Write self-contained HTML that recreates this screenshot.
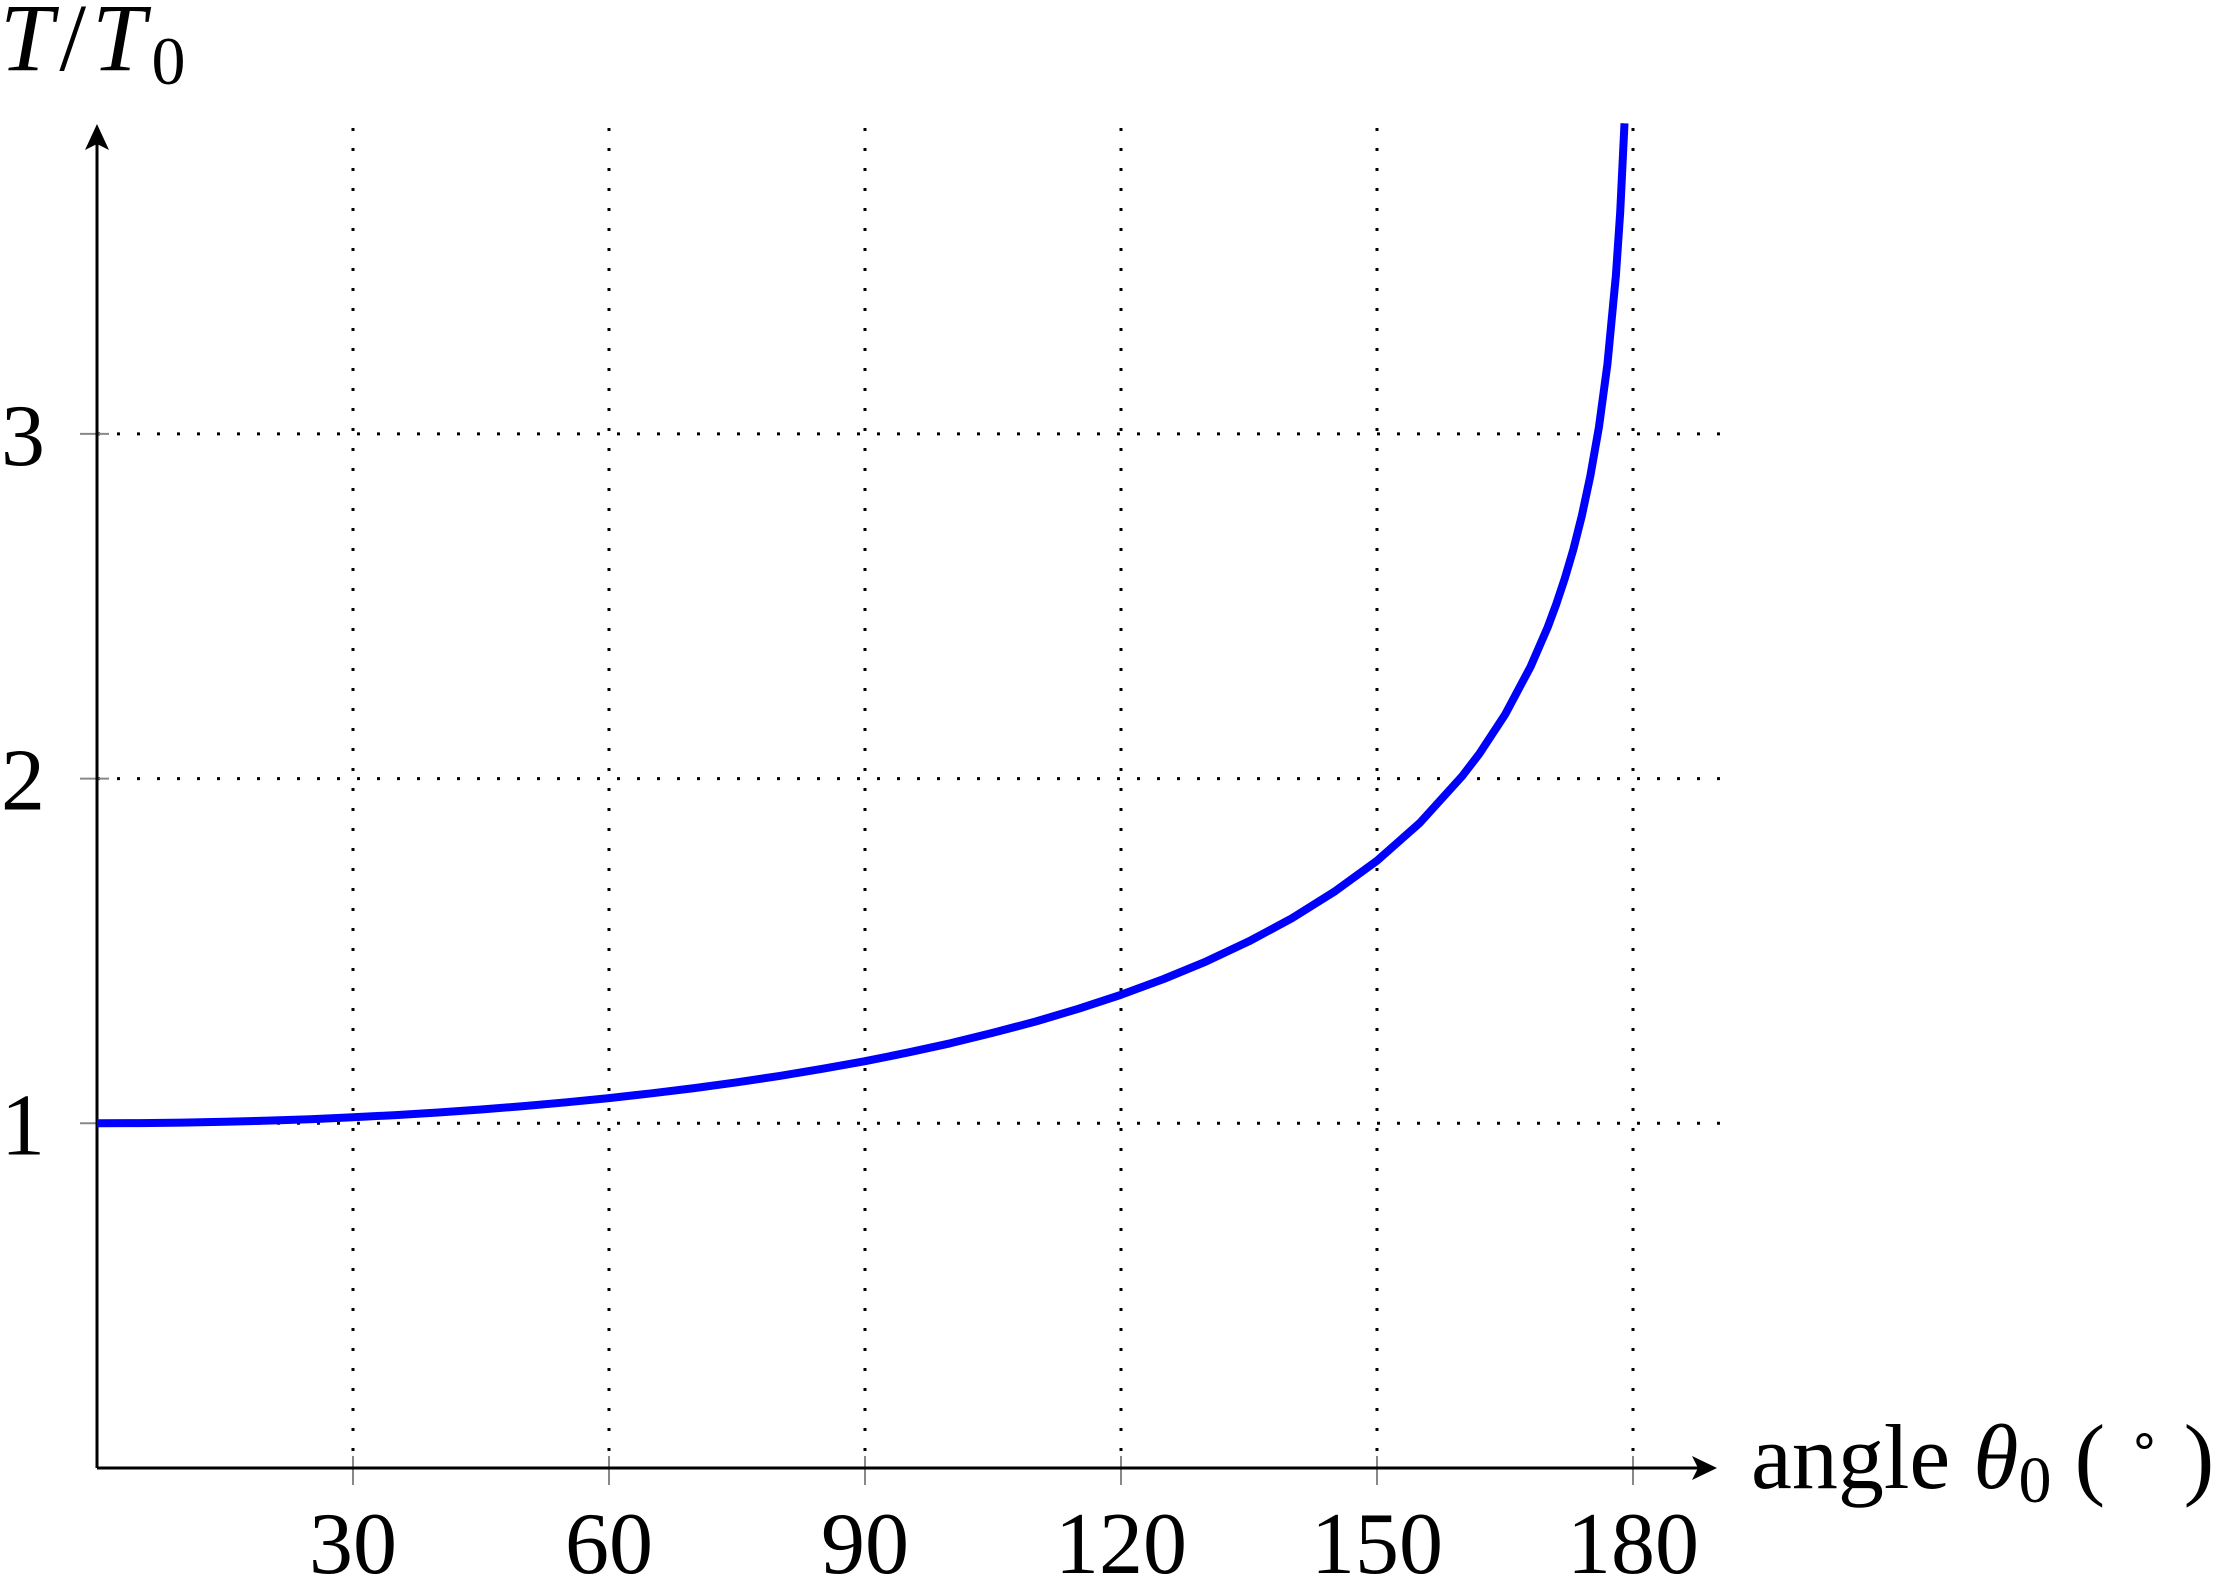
<!DOCTYPE html>
<html><head><meta charset="utf-8"><style>
html,body{margin:0;padding:0;background:#fff;}
svg{display:block;}
text{font-family:"Liberation Serif",serif;fill:#000;}
</style></head><body>
<svg id="chart" width="2229" height="1577" viewBox="0 0 2229 1577" xmlns="http://www.w3.org/2000/svg">
<g id="grid"></g>
<g id="axes"></g>
<g id="series"></g>
<text x="0" y="70" font-size="96" letter-spacing="6"><tspan font-style="italic">T</tspan>/<tspan font-style="italic">T</tspan><tspan font-size="68" dy="14">0</tspan></text>
<text x="1751" y="1488" font-size="92">angle <tspan font-style="italic">θ</tspan><tspan font-size="66" dy="14">0</tspan><tspan dy="-14"> ( </tspan><tspan font-size="52" dy="-30">∘</tspan><tspan dy="30"> )</tspan></text>
</svg>
<script>
const xTicks=[30,60,90,120,150,180];
const yTicks=[1,2,3];
const angles=[0,5,10,15,20,25,30,35,40,45,50,55,60,65,70,75,80,85,90,95,100,105,110,115,120,125,130,135,140,145,150,155,160,162,165,168,170,171,172,173,174,175,176,177,178,178.5,179];
const ratios=[1,1.0005,1.0019,1.0043,1.0077,1.0120,1.0174,1.0238,1.0313,1.0400,1.0498,1.0608,1.0732,1.0869,1.1021,1.1189,1.1375,1.1580,1.1803,1.2052,1.2322,1.2625,1.2953,1.3321,1.3729,1.4185,1.4698,1.5279,1.5944,1.6720,1.7616,1.8711,2.0074,2.0723,2.1854,2.3249,2.4393,2.5056,2.5800,2.6644,2.7621,2.8776,3.0192,3.2016,3.4598,3.643,3.901];
const NS='http://www.w3.org/2000/svg';
const X0=97,Y0=1468,PX=256/30,PY=344.7;
const xs=v=>X0+v*PX, ys=v=>Y0-v*PY;
function mk(tag,attrs,parent){const e=document.createElementNS(NS,tag);for(const k in attrs)e.setAttribute(k,attrs[k]);parent.appendChild(e);return e;}
const grid=document.getElementById('grid'),axes=document.getElementById('axes'),series=document.getElementById('series');
xTicks.forEach(t=>{
  const l=mk('line',{x1:xs(t),x2:xs(t),y1:128,y2:Y0,stroke:'#000','stroke-width':3,'stroke-dasharray':'3 17'},grid);
  
  
  const tk=mk('line',{x1:xs(t),x2:xs(t),y1:Y0-12,y2:Y0+17,stroke:'#888','stroke-width':2},axes);
  
  
  const tx=mk('text',{x:xs(t),y:1573,'font-size':88,'text-anchor':'middle'},axes);
  tx.textContent=t;
  
  
});
yTicks.forEach(t=>{
  const l=mk('line',{x1:X0,x2:1720,y1:ys(t),y2:ys(t),stroke:'#000','stroke-width':3,'stroke-dasharray':'3 17'},grid);
  
  
  const tk=mk('line',{x1:X0-17,x2:X0+12,y1:ys(t),y2:ys(t),stroke:'#888','stroke-width':2},axes);
  
  
  const tx=mk('text',{x:45,y:ys(t)+31,'font-size':88,'text-anchor':'end'},axes);
  tx.textContent=t;
  
  
});
const xa=mk('path',{d:`M${X0} ${Y0}H1712`,stroke:'#000','stroke-width':3,fill:'none'},axes);


const xarr=mk('path',{d:'M1692 1456 L1717 1468 L1692 1480 L1698 1468 Z',fill:'#000'},axes);


const ya=mk('path',{d:`M${X0} ${Y0}V130`,stroke:'#000','stroke-width':3,fill:'none'},axes);


const yarr=mk('path',{d:`M${X0-12} 150 L${X0} 124 L${X0+12} 150 L${X0} 144 Z`,fill:'#000'},axes);


const pts=angles.map((a,i)=>[xs(a),ys(ratios[i])]);
let d='M'+pts[0][0].toFixed(1)+' '+pts[0][1].toFixed(1);
for(let i=1;i<pts.length;i++){d+=' L'+pts[i][0].toFixed(1)+' '+pts[i][1].toFixed(1);}
const c=mk('path',{d:d,stroke:'#0000ff','stroke-width':8,fill:'none','stroke-linejoin':'round'},series);


</script>
</body></html>
